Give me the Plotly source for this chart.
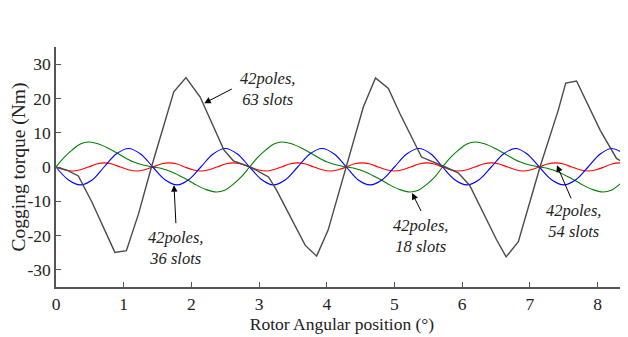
import plotly.graph_objects as go

# ---- data ----
gray_x = [0, 0.16, 0.33, 0.53, 0.87, 1.04, 1.22, 1.41, 1.74, 1.92, 2.13, 2.48, 2.62, 2.87,
          3.14, 3.26, 3.68, 3.85, 4.02, 4.29, 4.54, 4.72, 4.91, 5.08, 5.40, 5.75, 5.94,
          6.11, 6.51, 6.65, 6.83, 7.15, 7.42, 7.53, 7.69, 8.04, 8.28, 8.45]
gray_y = [0, -0.9, -2.6, -10.2, -24.9, -24.4, -13.6, 0, 21.9, 26.1, 20.4, 5.0, 1.8, 0,
          -2.9, -6.8, -22.8, -26.0, -18.4, 0, 17.5, 26.0, 22.9, 15.6, 2.9, 0, -1.7,
          -5.3, -21.3, -26.2, -21.8, 0, 16.6, 24.5, 25.1, 10.7, 2.5, 0.5]

blue_x = [0, 0.18, 0.36, 0.54, 0.71, 0.89, 1.07, 1.25, 1.43, 1.61, 1.79, 1.96, 2.14, 2.32,
          2.50, 2.68, 2.86, 3.04, 3.21, 3.39, 3.57, 3.75, 3.93, 4.11, 4.29, 4.46, 4.64,
          4.82, 5.00, 5.18, 5.36, 5.54, 5.71, 5.89, 6.07, 6.25, 6.43, 6.61, 6.79, 6.96,
          7.14, 7.32, 7.50, 7.68, 7.86, 8.04, 8.21, 8.39, 8.57]
blue_y = [0, -3.7, -5.2, -3.7, 0, 3.8, 5.4, 3.8,
          0, -3.7, -5.2, -3.7, 0, 3.8, 5.4, 3.8,
          0, -3.7, -5.2, -3.7, 0, 3.8, 5.4, 3.8,
          0, -3.7, -5.2, -3.7, 0, 3.8, 5.4, 3.8,
          0, -3.7, -5.2, -3.7, 0, 3.8, 5.4, 3.8,
          0, -3.7, -5.2, -3.7, 0, 3.8, 5.4, 3.8,
          0]

green_x = [0, 0.12, 0.24, 0.36, 0.48, 0.62, 0.78, 0.95, 1.14, 1.30, 1.43, 1.57, 1.72, 1.90,
           2.05, 2.22, 2.37, 2.50, 2.62, 2.74,
           2.86, 2.98, 3.10, 3.22, 3.34, 3.48, 3.64, 3.81, 4.00, 4.16, 4.29, 4.43, 4.58,
           4.76, 4.91, 5.08, 5.23, 5.36, 5.48, 5.60,
           5.71, 5.83, 5.95, 6.07, 6.19, 6.33, 6.49, 6.66, 6.85, 7.01, 7.14, 7.28, 7.43,
           7.61, 7.76, 7.93, 8.08, 8.21, 8.33, 8.45, 8.57]
green_y = [0, 2.8, 5.0, 6.7, 7.3, 6.8, 5.4, 3.5, 1.5, 0.5, 0.0, -0.5, -1.5, -3.3,
           -5.0, -6.6, -7.3, -6.7, -5.0, -2.8,
           0, 2.8, 5.0, 6.7, 7.3, 6.8, 5.4, 3.5, 1.5, 0.5, 0.0, -0.5, -1.5,
           -3.3, -5.0, -6.6, -7.3, -6.7, -5.0, -2.8,
           0, 2.8, 5.0, 6.7, 7.3, 6.8, 5.4, 3.5, 1.5, 0.5, 0.0, -0.5, -1.5,
           -3.3, -5.0, -6.6, -7.3, -6.7, -5.0, -2.8, 0]

red_x = [0, 0.12, 0.24, 0.36, 0.48, 0.60, 0.71, 0.83, 0.95, 1.07, 1.19, 1.31, 1.43, 1.55,
         1.67, 1.79, 1.90, 2.02, 2.14, 2.26, 2.38, 2.50, 2.62, 2.74, 2.86, 2.98, 3.10,
         3.21, 3.33, 3.45, 3.57, 3.69, 3.81, 3.93, 4.05, 4.17, 4.29, 4.40, 4.52, 4.64,
         4.76, 4.88, 5.00, 5.12, 5.24, 5.36, 5.48, 5.59, 5.71, 5.83, 5.95, 6.07, 6.19,
         6.31, 6.43, 6.55, 6.67, 6.79, 6.90, 7.02, 7.14, 7.26, 7.38, 7.50, 7.62, 7.74,
         7.86, 7.98, 8.10, 8.21, 8.33, 8.45, 8.57]
red_y = [0, -0.8, -1.15, -0.8, 0, 0.85, 1.2, 0.85,
         0, -0.8, -1.15, -0.8, 0, 0.85, 1.2, 0.85,
         0, -0.8, -1.15, -0.8, 0, 0.85, 1.2, 0.85,
         0, -0.8, -1.15, -0.8, 0, 0.85, 1.2, 0.85,
         0, -0.8, -1.15, -0.8, 0, 0.85, 1.2, 0.85,
         0, -0.8, -1.15, -0.8, 0, 0.85, 1.2, 0.85,
         0, -0.8, -1.15, -0.8, 0, 0.85, 1.2, 0.85,
         0, -0.8, -1.15, -0.8, 0, 0.85, 1.2, 0.85,
         0, -0.8, -1.15, -0.8, 0, 0.85, 1.2, 0.85,
         0]

x_ticks = [0, 1, 2, 3, 4, 5, 6, 7, 8]
x_ticklabels = ["0", "1", "2", "3", "4", "5", "6", "7", "8"]
y_ticks = [-30, -20, -10, 0, 10, 20, 30]
y_ticklabels = ["-30", "-20", "-10", "0", "10", "20", "30"]

labels = ["42poles,<br>63 slots", "42poles,<br>36 slots",
          "42poles,<br>18 slots", "42poles,<br>54 slots"]
label_pos = [(3.13, 22.7), (1.77, -23.7), (5.39, -20.2), (7.64, -15.8)]
arrow_head = [(2.19, 18.6), (1.743, -5.3), (5.26, -7.6), (7.40, 0.5)]
arrow_tail_px = [(29, -15), (2, 40), (10, 20), (15, 35)]

FONT = "Liberation Serif, Times New Roman, DejaVu Serif, serif"

fig = go.Figure()
fig.add_trace(go.Scatter(x=green_x, y=green_y, mode="lines",
                         line=dict(color="#008000", width=1.1, shape="spline")))
fig.add_trace(go.Scatter(x=red_x, y=red_y, mode="lines",
                         line=dict(color="#ff0000", width=1.1, shape="spline")))
fig.add_trace(go.Scatter(x=blue_x, y=blue_y, mode="lines",
                         line=dict(color="#0000ff", width=1.1, shape="spline")))
fig.add_trace(go.Scatter(x=gray_x, y=gray_y, mode="lines",
                         line=dict(color="#4a4a4a", width=1.4)))

for (hx, hy), (ax, ay) in zip(arrow_head, arrow_tail_px):
    fig.add_annotation(x=hx, y=hy, ax=ax, ay=ay, text=" ", showarrow=True,
                       arrowhead=2, arrowsize=1.3, arrowwidth=1, arrowcolor="black",
                       font=dict(size=1))
for (tx, ty), t in zip(label_pos, labels):
    fig.add_annotation(x=tx, y=ty, text="<i>" + t.replace("<br>", "</i><br><i>") + "</i>",
                       showarrow=False,
                       font=dict(family=FONT, size=16.5, color="#222"),
                       xanchor="center", yanchor="middle")

# page body adds an 8px offset, so the figure is sized to fit the remaining window
fig.update_layout(
    width=620, height=329,
    margin=dict(l=48, r=0, t=39, b=50),
    paper_bgcolor="white", plot_bgcolor="white",
    showlegend=False,
    font=dict(family=FONT, size=17, color="#222"),
)
fig.update_xaxes(range=[0, 8.45], tickvals=x_ticks, ticktext=x_ticklabels,
                 showgrid=False, zeroline=False, showline=True, automargin=False,
                 linecolor="#555", linewidth=1.5, ticks="inside", ticklen=5,
                 tickcolor="#555", tickwidth=1,
                 tickfont=dict(family=FONT, size=17.5),
                 title=dict(text="Rotor Angular position (°)", standoff=0,
                            font=dict(family=FONT, size=17.5)))
fig.update_yaxes(range=[-35, 35], tickvals=y_ticks, ticktext=y_ticklabels,
                 showgrid=False, zeroline=False, showline=True, automargin=False,
                 linecolor="#555", linewidth=1.5, ticks="inside", ticklen=5,
                 tickcolor="#555", tickwidth=1,
                 tickfont=dict(family=FONT, size=17.5),
                 title=dict(text="Cogging torque (Nm)", standoff=0,
                            font=dict(family=FONT, size=19.5)))

fig.write_html("out.html")
